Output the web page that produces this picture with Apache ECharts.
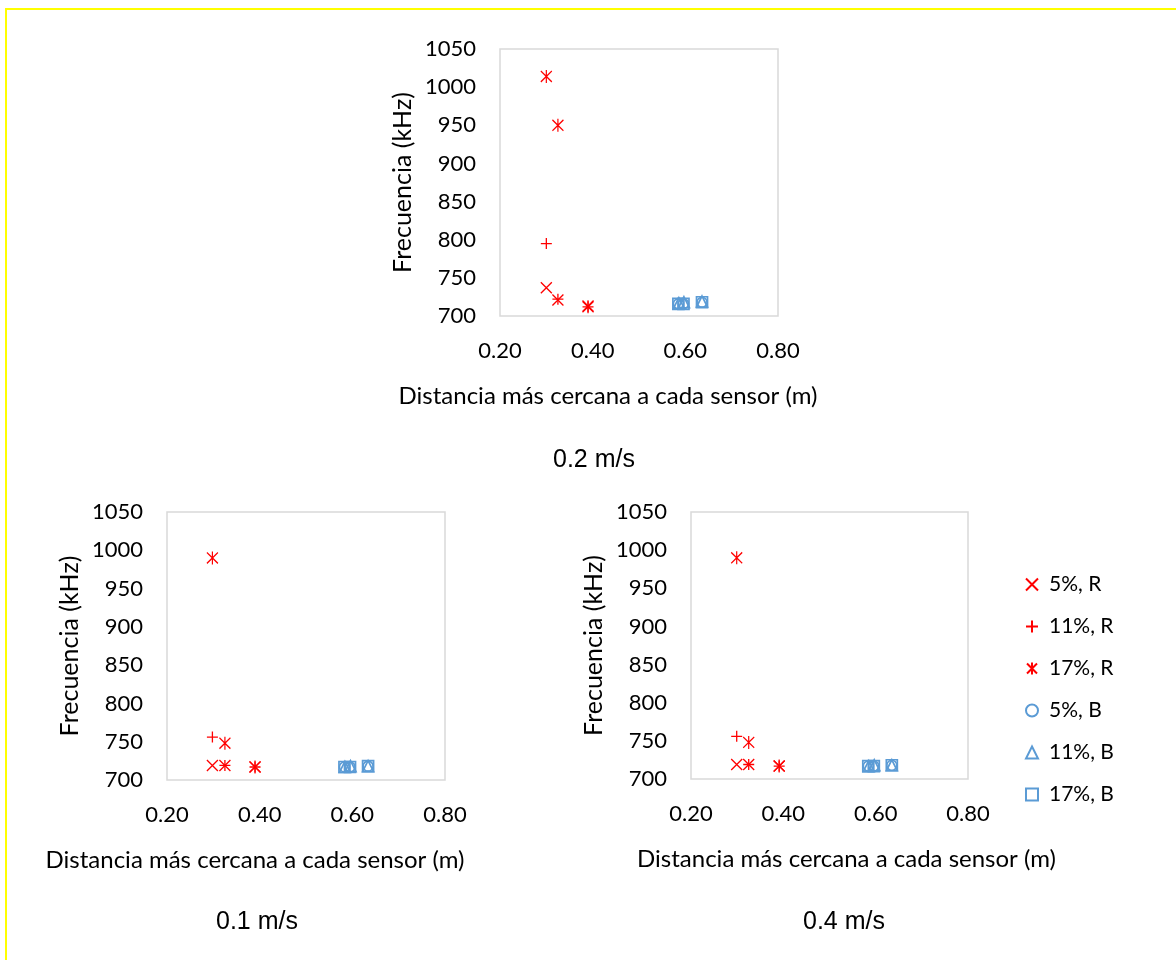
<!DOCTYPE html>
<html>
<head>
<meta charset="utf-8">
<script src="https://cdn.jsdelivr.net/npm/echarts@6/dist/echarts.min.js"></script>
<style>
html,body{margin:0;padding:0;background:#fff;}
#chart{width:1176px;height:960px;}
</style>
</head>
<body>
<div id="chart"></div>
<script>
// ---- data ----
const seriesNames = ['5%, R', '11%, R', '17%, R', '5%, B', '11%, B', '17%, B'];
const panelTitles = ['0.2 m/s', '0.1 m/s', '0.4 m/s'];
const xTicks = [0.20, 0.40, 0.60, 0.80];
const yTicks = [700, 750, 800, 850, 900, 950, 1000, 1050];
const xAxisName = 'Distancia más cercana a cada sensor (m)';
const yAxisName = 'Frecuencia (kHz)';

// 0.2 m/s
const r5_02  = [[0.300, 737], [0.325, 721], [0.390, 713]];
const r11_02 = [[0.300, 795], [0.325, 722], [0.390, 712]];
const r17_02 = [[0.300, 1014], [0.325, 950], [0.390, 712]];
const b5_02  = [[0.585, 716], [0.596, 716], [0.636, 718]];
const b11_02 = [[0.586, 717], [0.597, 718], [0.636, 719]];
const b17_02 = [[0.585, 716], [0.596, 716], [0.636, 718]];

// 0.1 m/s
const r5_01  = [[0.298, 719], [0.325, 719], [0.390, 717]];
const r11_01 = [[0.298, 756], [0.325, 719], [0.390, 717]];
const r17_01 = [[0.298, 990], [0.325, 748], [0.390, 717]];
const b5_01  = [[0.583, 717], [0.595, 717], [0.634, 718]];
const b11_01 = [[0.584, 717], [0.596, 718], [0.634, 718]];
const b17_01 = [[0.583, 717], [0.595, 717], [0.634, 718]];

// 0.4 m/s
const r5_04  = [[0.299, 719], [0.325, 719], [0.391, 717]];
const r11_04 = [[0.299, 756], [0.325, 719], [0.391, 717]];
const r17_04 = [[0.299, 990], [0.325, 748], [0.391, 717]];
const b5_04  = [[0.584, 717], [0.596, 717], [0.635, 718]];
const b11_04 = [[0.585, 717], [0.597, 718], [0.635, 718]];
const b17_04 = [[0.584, 717], [0.596, 717], [0.635, 718]];

const panelData = [
  [r5_02, r11_02, r17_02, b5_02, b11_02, b17_02],
  [r5_01, r11_01, r17_01, b5_01, b11_01, b17_01],
  [r5_04, r11_04, r17_04, b5_04, b11_04, b17_04]
];

// ---- styles ----
const RED = '#FF0000';
const BLUE = '#5B9BD5';
const LATO = 'Lato';
const markerStyles = [
  {symbol: 'path://M0,0L10,10M0,10L10,0', size: 11, color: RED, fill: RED, bw: 1.3},
  {symbol: 'path://M5,0L5,10M0,5L10,5', size: 11, color: RED, fill: RED, bw: 1.3},
  {symbol: 'path://M0,1L10,11M0,11L10,1M5,0L5,12', size: [11, 13], color: RED, fill: RED, bw: 1.3},
  {symbol: 'circle', size: 10, color: BLUE, fill: 'rgba(0,0,0,0)', bw: 1.7},
  {symbol: 'triangle', size: 11, color: BLUE, fill: 'rgba(0,0,0,0)', bw: 1.7},
  {symbol: 'rect', size: 11, color: BLUE, fill: 'rgba(0,0,0,0)', bw: 1.7}
];

const grids = [
  {left: 500, top: 49, width: 278, height: 267},
  {left: 167, top: 512, width: 278, height: 268},
  {left: 691, top: 512, width: 277, height: 267}
];
const xNamePad = [[0, 62, 0, 0], [0, 102, 0, 0], [0, 0, 0, 34]];
const titlePos = [[594, 448], [257, 910], [844, 910]];

const option = {
  backgroundColor: '#fff',
  animation: false,
  title: panelTitles.map((t, i) => ({
    text: t, left: titlePos[i][0], top: titlePos[i][1], textAlign: 'center', padding: 0,
    textStyle: {fontFamily: 'Liberation Sans', fontSize: 25, fontWeight: 'normal', color: '#000'}
  })),
  legend: {
    orient: 'vertical', left: 1020, top: 569,
    itemWidth: 12, itemHeight: 12, itemGap: 21,
    data: seriesNames,
    textStyle: {fontFamily: LATO, fontSize: 21, color: '#000', padding: [0, 0, 0, 6]}
  },
  grid: grids.map(g => Object.assign({show: true, borderColor: '#d9d9d9', borderWidth: 1.5, backgroundColor: '#fff'}, g)),
  xAxis: grids.map((g, i) => ({
    gridIndex: i, type: 'value', min: xTicks[0], max: xTicks[xTicks.length - 1], interval: 0.2,
    axisLine: {show: false}, axisTick: {show: false}, splitLine: {show: false},
    axisLabel: {formatter: v => v.toFixed(2), fontFamily: LATO, fontSize: 22, color: '#000', margin: 24, showMaxLabel: true, showMinLabel: true},
    name: xAxisName, nameLocation: 'middle', nameGap: 68,
    nameTextStyle: {fontFamily: LATO, fontSize: 24, color: '#000', padding: xNamePad[i]}
  })),
  yAxis: grids.map((g, i) => ({
    gridIndex: i, type: 'value', min: yTicks[0], max: yTicks[yTicks.length - 1], interval: 50,
    axisLine: {show: false}, axisTick: {show: false}, splitLine: {show: false},
    axisLabel: {formatter: v => String(v), fontFamily: LATO, fontSize: 22, color: '#000', margin: 24},
    name: yAxisName, nameLocation: 'middle', nameGap: 85,
    nameTextStyle: {fontFamily: LATO, fontSize: 25, color: '#000'}
  })),
  graphic: [{
    type: 'rect', silent: true, z: 100,
    shape: {x: 6, y: 9, width: 1400, height: 1200},
    style: {fill: 'none', stroke: '#FFFF00', lineWidth: 2}
  }],
  series: []
};

panelData.forEach((sets, p) => {
  sets.forEach((d, s) => {
    const m = markerStyles[s];
    option.series.push({
      type: 'scatter', name: seriesNames[s], xAxisIndex: p, yAxisIndex: p,
      symbol: m.symbol, symbolSize: m.size,
      itemStyle: {color: m.fill, borderColor: m.color, borderWidth: m.bw, opacity: 1},
      emphasis: {disabled: true},
      data: d
    });
  });
});

const chart = echarts.init(document.getElementById('chart'), null, {renderer: 'canvas'});
chart.setOption(option);
</script>
</body>
</html>
